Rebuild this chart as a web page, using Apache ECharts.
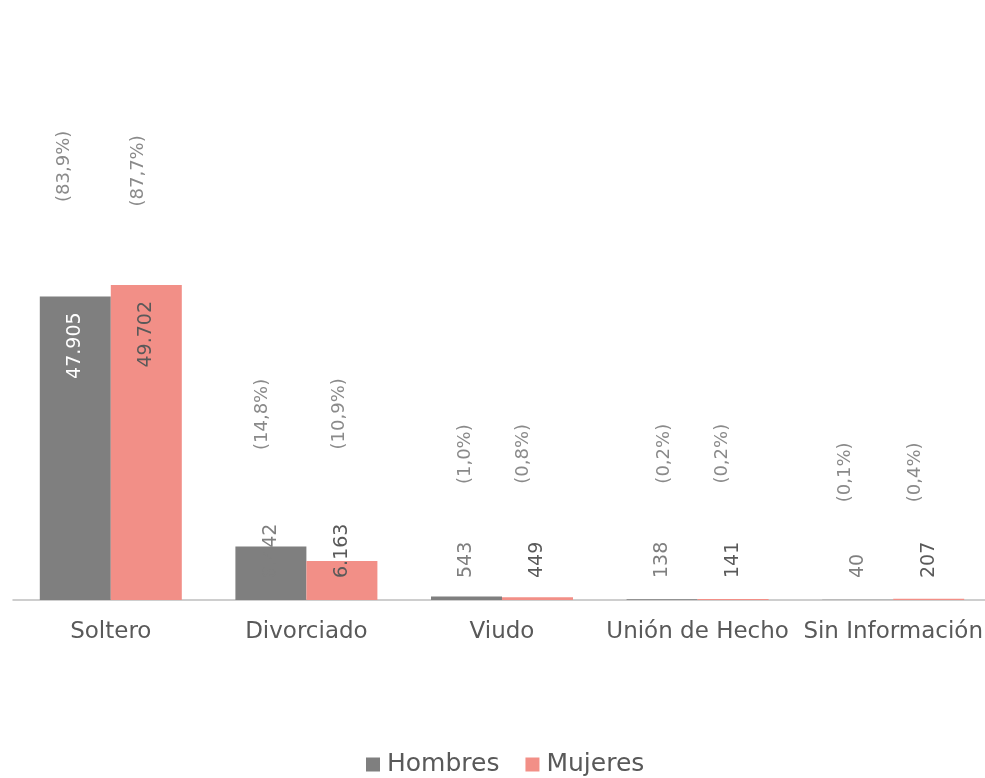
<!DOCTYPE html>
<html>
<head>
<meta charset="utf-8">
<title>Estado civil</title>
<script src="https://cdn.jsdelivr.net/npm/echarts@6/dist/echarts.min.js"></script>
<style>
  html, body { margin: 0; padding: 0; background: #fff; }
  #chart { width: 985px; height: 778px; }
</style>
</head>
<body>
<div id="chart"></div>
<script>
// datos
var categorias = ['Soltero', 'Divorciado', 'Viudo', 'Unión de Hecho', 'Sin Información']
var hombres = [47905, 8442, 543, 138, 40]
var mujeres = [49702, 6163, 449, 141, 207]
var pctHombres = ['83,9', '14,8', '1,0', '0,2', '0,1']
var pctMujeres = ['87,7', '10,9', '0,8', '0,2', '0,4']

// posicion de las etiquetas de porcentaje (px sobre la barra, desplazamiento horizontal)
var pctGapH = [94, 96, 112, 115, 97]
var pctGapM = [78, 111, 113, 115, 96]
var pctDxH = [-11, -9, -1, 2, -12]
var pctDxM = [-8, -3, -14, -11, -13]

var FONT = "'DejaVu Sans', sans-serif"
var GRIS = '#7f7f7f'

function valueLabel(v, insideColor, outsideColor) {
  // barras altas: etiqueta dentro arriba, el resto: sobre la base
  if (v > 20000) {
    return { position: 'insideTop', distance: 16, align: 'right', color: insideColor }
  }
  return { position: 'insideBottom', distance: 22, align: 'left', color: outsideColor }
}

function buildData(values, insideColor, outsideColor) {
  return values.map(function (v) {
    return { value: v, label: valueLabel(v, insideColor, outsideColor) }
  })
}

function buildPct(values, pcts, gaps, dxs) {
  return values.map(function (v, i) {
    return {
      coord: [i, v],
      value: '(' + pcts[i] + '%)',
      label: { distance: gaps[i], offset: [0, dxs[i]] }
    }
  })
}

function pctMarks(values, pcts, gaps, dxs) {
  return {
    symbol: 'circle',
    symbolSize: 1,
    silent: true,
    itemStyle: { color: 'rgba(0,0,0,0)' },
    label: {
      show: true,
      position: 'top',
      rotate: 90,
      align: 'left',
      verticalAlign: 'middle',
      color: '#8a8a8a',
      fontSize: 18,
      fontFamily: FONT,
      formatter: function (p) { return p.value }
    },
    data: buildPct(values, pcts, gaps, dxs)
  }
}

function fmt(p) {
  return p.value.toLocaleString('de-DE')
}

var myChart = echarts.init(document.getElementById('chart'))
myChart.setOption({
  animation: false,
  textStyle: { fontFamily: FONT },
  grid: { left: 13, width: 978, top: 93, bottom: 178, containLabel: false, outerBoundsMode: 'none' },
  legend: {
    data: ['Hombres', 'Mujeres'],
    bottom: -4,
    left: 361,
    icon: 'rect',
    itemWidth: 14,
    itemHeight: 14,
    itemGap: 26,
    textStyle: { fontSize: 25, color: '#595959', fontFamily: FONT, padding: [0, 0, 0, 2] }
  },
  xAxis: {
    type: 'category',
    data: categorias,
    axisTick: { show: false },
    axisLine: { lineStyle: { color: '#bfbfbf', width: 1.5 } },
    axisLabel: { interval: 0, fontSize: 23, color: '#595959', margin: 21, fontFamily: FONT }
  },
  yAxis: {
    type: 'value',
    min: 0,
    max: 80000,
    show: false,
    splitLine: { show: false }
  },
  series: [
    {
      name: 'Hombres',
      type: 'bar',
      barWidth: 71,
      barGap: 0,
      itemStyle: { color: GRIS },
      label: {
        show: true,
        rotate: 90,
        verticalAlign: 'middle',
        fontSize: 19,
        fontFamily: FONT,
        formatter: fmt
      },
      data: buildData(hombres, '#ffffff', GRIS),
      markPoint: pctMarks(hombres, pctHombres, pctGapH, pctDxH)
    },
    {
      name: 'Mujeres',
      type: 'bar',
      barWidth: 71,
      barGap: 0,
      itemStyle: { color: '#f28f87' },
      label: {
        show: true,
        rotate: 90,
        verticalAlign: 'middle',
        fontSize: 19,
        fontFamily: FONT,
        formatter: fmt
      },
      data: buildData(mujeres, '#595959', '#595959'),
      markPoint: pctMarks(mujeres, pctMujeres, pctGapM, pctDxM)
    }
  ]
})
</script>
</body>
</html>
